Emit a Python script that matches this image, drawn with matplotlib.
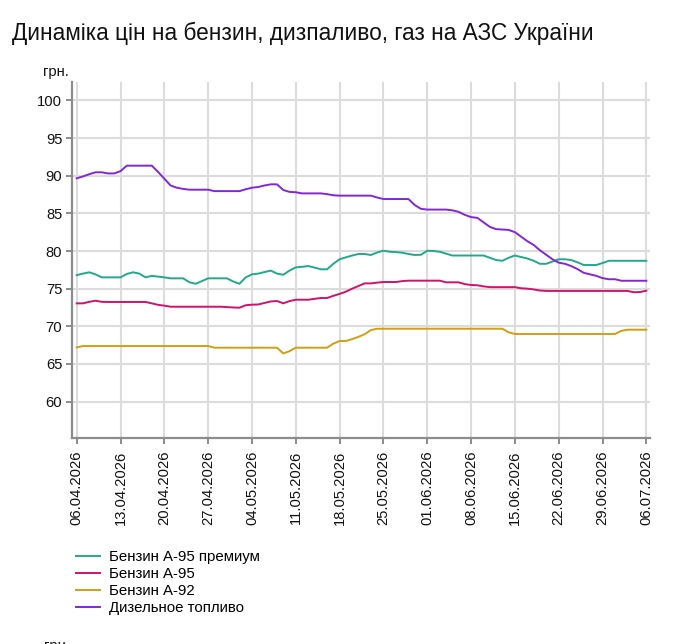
import numpy as np
import pandas as pd
import matplotlib
matplotlib.use('Agg')
import matplotlib.pyplot as plt
import matplotlib.dates as mdates

plt.rcParams['font.family'] = ['Liberation Sans', 'DejaVu Sans']

# дані: щоденні ціни, 06.04.2026 - 06.07.2026
dates = pd.date_range('2026-04-06', '2026-07-06', freq='D')

a95_premium = [76.8, 77.0, 77.17, 76.9, 76.5, 76.5, 76.5, 76.5, 76.95, 77.17,
               77.0, 76.5, 76.7, 76.6, 76.5, 76.37, 76.37, 76.37, 75.85, 75.65,
               76.0, 76.37, 76.37, 76.37, 76.37, 75.95, 75.65, 76.5, 76.9, 77.0,
               77.2, 77.4, 77.0, 76.85, 77.4, 77.83, 77.9, 78.0, 77.8, 77.57,
               77.57, 78.3, 78.9, 79.16, 79.4, 79.6, 79.6, 79.47, 79.8, 80.04,
               79.9, 79.85, 79.78, 79.6, 79.47, 79.5, 80.04, 80.0, 79.9, 79.65,
               79.4, 79.4, 79.4, 79.4, 79.4, 79.4, 79.1, 78.8, 78.7, 79.1,
               79.4, 79.2, 79.0, 78.7, 78.3, 78.3, 78.6, 78.9, 78.9, 78.8,
               78.5, 78.14, 78.14, 78.14, 78.4, 78.7, 78.7, 78.7, 78.7, 78.7,
               78.7, 78.7]

a95 = [73.05, 73.05, 73.25, 73.4, 73.25, 73.23, 73.23, 73.23, 73.23, 73.23,
       73.23, 73.23, 73.05, 72.85, 72.74, 72.6, 72.6, 72.6, 72.6, 72.6,
       72.6, 72.6, 72.6, 72.6, 72.55, 72.5, 72.47, 72.8, 72.87, 72.9,
       73.1, 73.3, 73.36, 73.05, 73.35, 73.53, 73.53, 73.53, 73.65, 73.76,
       73.76, 74.05, 74.3, 74.6, 75.0, 75.35, 75.7, 75.7, 75.8, 75.88,
       75.88, 75.88, 76.0, 76.06, 76.06, 76.06, 76.06, 76.06, 76.06, 75.84,
       75.84, 75.84, 75.6, 75.49, 75.45, 75.3, 75.2, 75.2, 75.2, 75.2,
       75.2, 75.05, 75.0, 74.9, 74.75, 74.7, 74.7, 74.7, 74.7, 74.7,
       74.7, 74.7, 74.7, 74.7, 74.7, 74.7, 74.7, 74.7, 74.7, 74.52,
       74.55, 74.73]

a92 = [67.2] + [67.38] * 21 + [67.16] * 11 + [66.4, 66.7] + [67.16] * 6 + \
      [67.7, 68.05, 68.05, 68.3, 68.6, 68.95, 69.5] + [69.68] * 21 + [69.2] + \
      [68.98] * 17 + [69.4, 69.55, 69.55, 69.55, 69.55]

diesel = [89.65, 89.9, 90.2, 90.45, 90.45, 90.3, 90.3, 90.6, 91.33, 91.33,
          91.33, 91.33, 91.33, 90.5, 89.6, 88.7, 88.4, 88.25, 88.14, 88.14,
          88.14, 88.14, 87.95, 87.95, 87.95, 87.95, 87.95, 88.2, 88.4, 88.5,
          88.7, 88.85, 88.85, 88.1, 87.85, 87.8, 87.65, 87.65, 87.65, 87.65,
          87.55, 87.4, 87.35, 87.35, 87.35, 87.35, 87.35, 87.35, 87.1, 86.9,
          86.9, 86.9, 86.9, 86.9, 86.1, 85.6, 85.5, 85.5, 85.5, 85.5,
          85.4, 85.2, 84.8, 84.5, 84.4, 83.8, 83.2, 82.9, 82.85, 82.8,
          82.5, 81.9, 81.3, 80.8, 80.1, 79.5, 78.9, 78.45, 78.3, 78.0,
          77.6, 77.1, 76.9, 76.7, 76.4, 76.25, 76.25, 76.05, 76.05, 76.05,
          76.05, 76.05]

labels = ['Бензин А-95 премиум', 'Бензин А-95', 'Бензин А-92', 'Дизельное топливо']
colors = ['#22a98b', '#d1126b', '#d39e12', '#8326d6']

W, H = 673, 644
fig = plt.figure(figsize=(W / 100, H / 100), dpi=100)
ax = fig.add_axes([72 / W, 1 - 438 / H, 578 / W, 356 / H])

lines = []
for s, lab, c in zip([a95_premium, a95, a92, diesel], labels, colors):
    l, = ax.plot(dates, s, color=c, lw=1.4, label=lab, zorder=3)
    lines.append(l)

ax.set_ylim(55.17, 102.44)
ax.set_yticks([60, 65, 70, 75, 80, 85, 90, 95, 100])
ax.set_xlim(dates[0] - pd.Timedelta(hours=18), dates[-1] + pd.Timedelta(hours=14))
ax.set_xticks(pd.date_range('2026-04-06', '2026-07-06', freq='7D'))
ax.xaxis.set_major_formatter(mdates.DateFormatter('%d.%m.%Y'))
plt.setp(ax.get_xticklabels(), rotation=90)

ax.grid(True, color='#dcdcdc', lw=1.5, zorder=0)
for sp in ['top', 'right']:
    ax.spines[sp].set_visible(False)
for sp in ['left', 'bottom']:
    ax.spines[sp].set_color('#8c8c8c')
    ax.spines[sp].set_linewidth(1.6)
ax.tick_params(axis='both', colors='#8c8c8c', width=1.4, length=4, labelsize=10.6,
               labelcolor='#111111')
ax.tick_params(axis='y', pad=3)
ax.tick_params(axis='x', pad=5)

fig.text(12 / W, 1 - 33 / H, 'Динаміка цін на бензин, дизпаливо, газ на АЗС України',
         fontsize=16.3, va='center', ha='left', color='#111111')
fig.text(56 / W, 1 - 72 / H, 'грн.', fontsize=10.6, ha='center', va='center', color='#111111')
fig.text(44 / W, 1 - 639 / H, 'грн.', fontsize=10.6, ha='left', va='top', color='#111111')

fig.legend(handles=lines, loc='upper left', bbox_to_anchor=(70 / W, 1 - 544 / H),
           frameon=False, fontsize=10.8, handlelength=1.6, handletextpad=0.6,
           labelspacing=0.2, borderaxespad=0)

fig.savefig('out.png', dpi=100)
